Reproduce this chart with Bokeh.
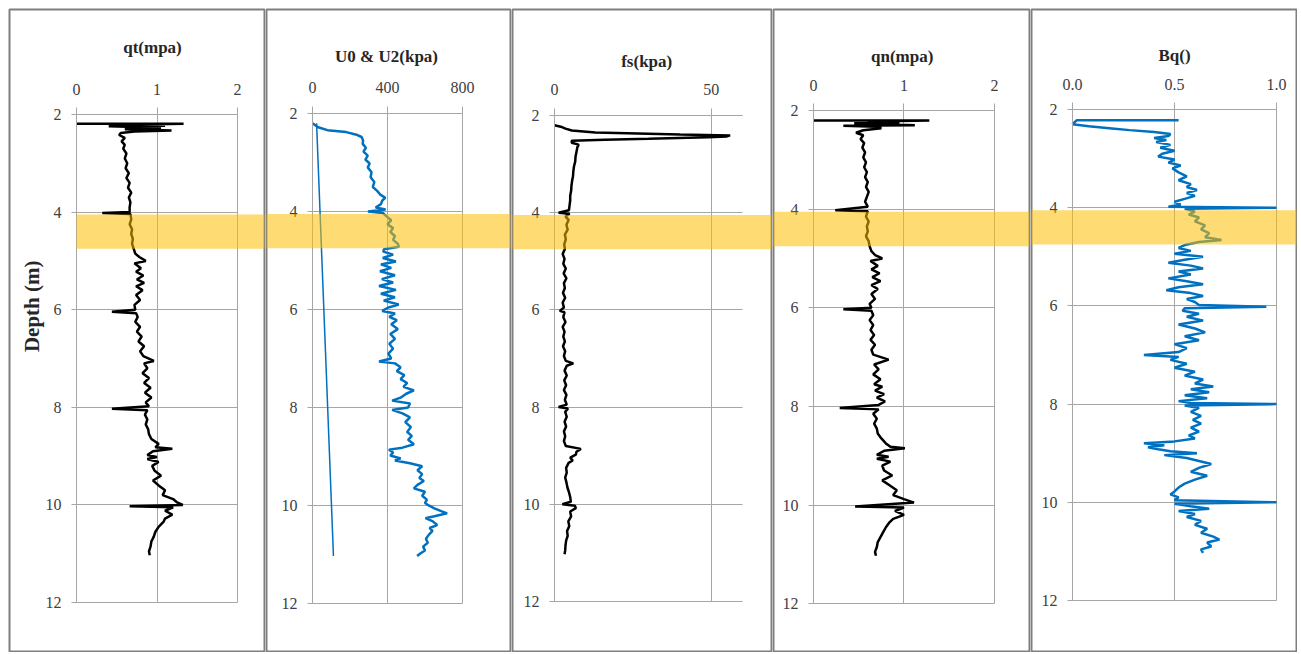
import math
from bokeh.plotting import figure
from bokeh.layouts import row
from bokeh.models import (Range1d, LinearAxis, FixedTicker, Grid, BoxAnnotation,
                          Label, PrintfTickFormatter, BasicTickFormatter)
from bokeh.embed import file_html
from bokeh.resources import INLINE

# ---------------- data ----------------
depth_ticks = [2, 4, 6, 8, 10, 12]
qt_ticks = [0, 1, 2]
u_ticks = [0, 400, 800]
fs_ticks = [0, 50]
qn_ticks = [0, 1, 2]
bq_ticks = [0.0, 0.5, 1.0]

band_top = 4.05
band_bottom = 4.75

qt_depth = [2.19, 2.19, 2.21, 2.23, 2.24, 2.26, 2.28, 2.30, 2.33, 2.35,
            2.38, 2.42, 2.48, 2.55, 2.62, 2.70, 2.80, 2.90, 3.00, 3.10,
            3.20, 3.30, 3.40, 3.50, 3.60, 3.70, 3.80, 3.90, 4.00, 4.02,
            4.04, 4.15, 4.25, 4.35, 4.45, 4.55, 4.65, 4.75, 4.85, 4.92,
            5.00, 5.05, 5.15, 5.22, 5.30, 5.38, 5.45, 5.52, 5.60, 5.70,
            5.80, 5.90, 6.00, 6.04, 6.07, 6.15, 6.25, 6.35, 6.45, 6.55,
            6.65, 6.75, 6.85, 6.95, 7.05, 7.10, 7.20, 7.30, 7.40, 7.50,
            7.60, 7.70, 7.80, 7.90, 7.98, 8.03, 8.06, 8.15, 8.25, 8.35,
            8.45, 8.55, 8.65, 8.75, 8.82, 8.85, 8.90, 8.98, 9.02, 9.06,
            9.12, 9.20, 9.30, 9.40, 9.50, 9.60, 9.70, 9.80, 9.88, 9.95,
            10.00, 10.03, 10.05, 10.12, 10.20, 10.28, 10.35, 10.45, 10.55, 10.65,
            10.75, 10.85, 10.95, 11.03]
qt_mpa = [0.00, 1.33, 0.62, 1.10, 0.40, 0.85, 1.05, 0.60, 1.18, 0.72,
          0.55, 0.53, 0.60, 0.56, 0.60, 0.58, 0.62, 0.60, 0.63, 0.61,
          0.65, 0.62, 0.66, 0.64, 0.68, 0.65, 0.67, 0.66, 0.66, 0.32,
          0.67, 0.68, 0.66, 0.69, 0.68, 0.70, 0.69, 0.71, 0.73, 0.78,
          0.86, 0.72, 0.80, 0.74, 0.83, 0.75, 0.84, 0.74, 0.82, 0.74,
          0.79, 0.72, 0.73, 0.44, 0.74, 0.76, 0.73, 0.79, 0.75, 0.81,
          0.77, 0.84, 0.79, 0.83, 0.96, 0.84, 0.88, 0.82, 0.90, 0.84,
          0.92, 0.85, 0.93, 0.86, 0.90, 0.44, 0.88, 0.85, 0.88, 0.86,
          0.89, 0.90, 0.93, 1.02, 0.98, 1.19, 0.95, 0.88, 1.00, 0.88,
          1.02, 0.94, 0.97, 1.05, 0.95, 1.02, 1.10, 1.07, 1.20, 1.25,
          1.32, 0.66, 1.20, 1.10, 1.19, 1.10, 1.08, 1.02, 0.98, 0.96,
          0.93, 0.92, 0.90, 0.91]

u0_depth = [2.20, 11.03]
u0_kpa = [22, 112]

u2_depth = [2.20, 2.28, 2.34, 2.38, 2.44, 2.48, 2.55, 2.62, 2.70, 2.78,
            2.86, 2.94, 3.02, 3.10, 3.20, 3.30, 3.40, 3.50, 3.58, 3.65,
            3.72, 3.78, 3.85, 3.92, 3.96, 4.00, 4.03, 4.10, 4.18, 4.26,
            4.34, 4.42, 4.50, 4.58, 4.66, 4.72, 4.77, 4.82, 4.88, 4.95,
            5.02, 5.08, 5.15, 5.22, 5.30, 5.38, 5.45, 5.52, 5.60, 5.68,
            5.75, 5.82, 5.90, 5.96, 6.03, 6.08, 6.15, 6.22, 6.30, 6.40,
            6.50, 6.60, 6.70, 6.80, 6.90, 7.00, 7.06, 7.10, 7.18, 7.26,
            7.34, 7.42, 7.50, 7.58, 7.65, 7.72, 7.80, 7.86, 7.92, 8.00,
            8.05, 8.12, 8.20, 8.30, 8.40, 8.50, 8.58, 8.66, 8.75, 8.82,
            8.86, 8.92, 8.98, 9.04, 9.08, 9.14, 9.20, 9.28, 9.36, 9.44,
            9.50, 9.58, 9.65, 9.72, 9.80, 9.88, 9.95, 10.00, 10.06, 10.12,
            10.16, 10.22, 10.26, 10.32, 10.40, 10.46, 10.52, 10.60, 10.68, 10.76,
            10.84, 10.92, 10.98, 11.03]
u2_kpa = [0, 30, 80, 180, 240, 262, 270, 268, 285, 272,
          295, 282, 305, 295, 315, 310, 330, 322, 345, 360,
          388, 372, 365, 337, 390, 296, 375, 395, 420, 400,
          430, 415, 440, 430, 455, 461, 381, 378, 430, 375,
          445, 365, 420, 360, 440, 370, 430, 355, 445, 365,
          440, 380, 460, 405, 372, 440, 410, 450, 420, 455,
          415, 440, 410, 430, 405, 420, 355, 440, 470, 450,
          490, 470, 505, 485, 541, 500, 470, 425, 520, 510,
          425, 480, 520, 495, 525, 505, 530, 510, 541, 480,
          408, 430, 415, 470, 440, 520, 585, 560, 585, 570,
          594, 560, 541, 600, 585, 610, 600, 620, 650, 690,
          718, 650, 603, 640, 665, 625, 640, 620, 605, 615,
          590, 600, 575, 558]

fs_depth = [2.20, 2.23, 2.27, 2.31, 2.35, 2.39, 2.41, 2.43, 2.45, 2.48,
            2.50, 2.52, 2.56, 2.60, 2.65, 2.75, 2.85, 2.95, 3.05, 3.15,
            3.25, 3.35, 3.45, 3.55, 3.65, 3.75, 3.85, 3.95, 4.00, 4.02,
            4.08, 4.15, 4.25, 4.35, 4.45, 4.55, 4.65, 4.75, 4.85, 4.95,
            5.05, 5.15, 5.25, 5.35, 5.45, 5.55, 5.65, 5.75, 5.85, 5.95,
            6.02, 6.05, 6.15, 6.25, 6.35, 6.45, 6.55, 6.65, 6.75, 6.85,
            6.95, 7.05, 7.10, 7.15, 7.25, 7.35, 7.45, 7.55, 7.65, 7.75,
            7.85, 7.95, 8.00, 8.03, 8.10, 8.20, 8.30, 8.40, 8.50, 8.60,
            8.70, 8.80, 8.86, 8.92, 8.98, 9.04, 9.10, 9.15, 9.25, 9.35,
            9.45, 9.55, 9.65, 9.75, 9.85, 9.95, 10.00, 10.03, 10.08, 10.15,
            10.25, 10.35, 10.45, 10.55, 10.65, 10.75, 10.85, 10.95, 11.03]
fs_kpa = [0.0, 2.0, 3.5, 5.5, 13.0, 40.0, 56.0, 55.0, 49.0, 30.0,
          16.0, 5.5, 5.5, 7.7, 7.3, 7.0, 6.7, 6.6, 6.2, 6.0,
          5.9, 5.6, 5.4, 5.3, 5.0, 5.0, 4.8, 4.6, 1.3, 4.8,
          3.5, 4.5, 3.8, 4.2, 3.3, 3.6, 3.1, 3.3, 2.6, 3.2,
          2.8, 3.6, 2.9, 3.8, 3.0, 3.3, 2.7, 3.4, 2.6, 3.0,
          1.7, 3.2, 2.8, 3.5, 2.6, 3.2, 2.8, 3.3, 2.7, 3.4,
          3.0, 3.6, 6.0, 3.9, 3.2, 3.9, 3.1, 3.7, 3.0, 3.8,
          3.3, 3.9, 1.3, 4.3, 3.4, 3.9, 3.2, 3.7, 3.0, 3.4,
          3.0, 3.6, 8.4, 7.0, 6.8, 5.0, 5.8, 4.5, 3.7, 3.9,
          3.4, 3.8, 4.1, 4.6, 5.0, 5.2, 2.5, 6.5, 6.8, 5.0,
          5.3, 4.4, 4.7, 4.0, 4.2, 3.7, 3.5, 3.4, 3.2]

qn_depth = [2.20, 2.20, 2.22, 2.24, 2.26, 2.28, 2.30, 2.31, 2.33, 2.36,
            2.40, 2.45, 2.50, 2.58, 2.66, 2.75, 2.85, 2.95, 3.05, 3.15,
            3.25, 3.35, 3.45, 3.55, 3.65, 3.75, 3.85, 3.95, 4.02, 4.04,
            4.15, 4.25, 4.35, 4.45, 4.55, 4.65, 4.75, 4.85, 4.93, 5.00,
            5.05, 5.15, 5.22, 5.30, 5.38, 5.46, 5.54, 5.62, 5.72, 5.82,
            5.92, 6.00, 6.03, 6.06, 6.15, 6.25, 6.35, 6.45, 6.55, 6.65,
            6.75, 6.85, 6.95, 7.05, 7.15, 7.25, 7.35, 7.45, 7.55, 7.60,
            7.68, 7.75, 7.82, 7.90, 7.97, 8.03, 8.06, 8.15, 8.25, 8.35,
            8.45, 8.55, 8.65, 8.75, 8.82, 8.85, 8.90, 8.98, 9.02, 9.06,
            9.12, 9.20, 9.30, 9.40, 9.50, 9.60, 9.70, 9.80, 9.88, 9.95,
            10.03, 10.05, 10.12, 10.20, 10.28, 10.35, 10.45, 10.55, 10.65, 10.75,
            10.85, 10.95, 11.03]
qn_mpa = [0.00, 1.28, 0.60, 0.95, 0.45, 0.80, 1.12, 0.33, 0.70, 0.75,
          0.55, 0.47, 0.55, 0.52, 0.56, 0.54, 0.57, 0.55, 0.58, 0.56,
          0.59, 0.57, 0.60, 0.58, 0.61, 0.59, 0.57, 0.60, 0.24, 0.60,
          0.58, 0.61, 0.59, 0.60, 0.58, 0.61, 0.62, 0.64, 0.68, 0.76,
          0.63, 0.71, 0.64, 0.73, 0.65, 0.74, 0.64, 0.71, 0.64, 0.68,
          0.62, 0.64, 0.33, 0.64, 0.66, 0.62, 0.66, 0.63, 0.67, 0.63,
          0.68, 0.64, 0.66, 0.83, 0.67, 0.72, 0.66, 0.74, 0.67, 0.76,
          0.68, 0.78, 0.70, 0.79, 0.72, 0.29, 0.72, 0.66, 0.70, 0.67,
          0.70, 0.71, 0.75, 0.80, 0.85, 1.01, 0.78, 0.70, 0.83, 0.70,
          0.85, 0.76, 0.78, 0.87, 0.76, 0.84, 0.92, 0.88, 1.00, 1.11,
          0.46, 1.00, 0.90, 1.00, 0.88, 0.84, 0.80, 0.77, 0.74, 0.71,
          0.70, 0.68, 0.69]

bq_depth = [2.22, 2.22, 2.30, 2.34, 2.38, 2.42, 2.46, 2.50, 2.54, 2.58,
            2.62, 2.66, 2.72, 2.78, 2.84, 2.90, 2.96, 3.02, 3.08, 3.14,
            3.20, 3.28, 3.36, 3.44, 3.52, 3.58, 3.64, 3.70, 3.76, 3.82,
            3.88, 3.94, 3.98, 4.00, 4.02, 4.08, 4.14, 4.20, 4.28, 4.36,
            4.44, 4.52, 4.60, 4.66, 4.70, 4.76, 4.82, 4.88, 4.94, 5.00,
            5.06, 5.12, 5.18, 5.24, 5.30, 5.36, 5.44, 5.50, 5.56, 5.62,
            5.68, 5.74, 5.80, 5.86, 5.92, 5.98, 6.02, 6.05, 6.10, 6.16,
            6.22, 6.30, 6.38, 6.46, 6.54, 6.62, 6.70, 6.78, 6.86, 6.94,
            7.00, 7.04, 7.10, 7.18, 7.26, 7.34, 7.42, 7.50, 7.58, 7.64,
            7.70, 7.76, 7.82, 7.88, 7.94, 7.98, 8.00, 8.03, 8.08, 8.16,
            8.24, 8.32, 8.40, 8.48, 8.56, 8.64, 8.70, 8.76, 8.80, 8.84,
            8.88, 8.92, 8.96, 9.00, 9.04, 9.10, 9.16, 9.22, 9.30, 9.38,
            9.46, 9.54, 9.62, 9.70, 9.78, 9.84, 9.90, 9.96, 10.00, 10.03,
            10.08, 10.13, 10.18, 10.24, 10.30, 10.38, 10.46, 10.54, 10.62, 10.70,
            10.76, 10.82, 10.90, 10.96, 11.03]
bq_value = [0.52, 0.02, 0.00, 0.08, 0.18, 0.28, 0.40, 0.48, 0.47, 0.40,
            0.46, 0.41, 0.48, 0.43, 0.50, 0.44, 0.42, 0.50, 0.47, 0.53,
            0.49, 0.52, 0.56, 0.52, 0.58, 0.56, 0.61, 0.56, 0.60, 0.55,
            0.50, 0.53, 0.47, 1.00, 0.55, 0.60, 0.57, 0.62, 0.60, 0.65,
            0.63, 0.67, 0.65, 0.73, 0.62, 0.55, 0.52, 0.58, 0.50, 0.64,
            0.55, 0.47, 0.58, 0.64, 0.52, 0.58, 0.47, 0.56, 0.64, 0.52,
            0.46, 0.58, 0.64, 0.56, 0.60, 0.62, 0.95, 0.55, 0.54, 0.62,
            0.56, 0.64, 0.52, 0.60, 0.65, 0.55, 0.62, 0.50, 0.56, 0.52,
            0.35, 0.52, 0.48, 0.56, 0.50, 0.60, 0.55, 0.64, 0.60, 0.69,
            0.58, 0.67, 0.55, 0.66, 0.52, 0.58, 1.00, 0.55, 0.62, 0.58,
            0.63, 0.59, 0.63, 0.58, 0.62, 0.57, 0.60, 0.50, 0.35, 0.45,
            0.37, 0.42, 0.48, 0.61, 0.45, 0.56, 0.62, 0.68, 0.62, 0.58,
            0.66, 0.60, 0.55, 0.52, 0.50, 0.48, 0.52, 0.50, 1.00, 0.50,
            0.58, 0.67, 0.52, 0.60, 0.56, 0.63, 0.60, 0.66, 0.63, 0.69,
            0.72, 0.66, 0.68, 0.63, 0.64]

# ---------------- style ----------------
FONT = "Liberation Serif"
GRID_C = "#A6A6A6"
BORDER_C = "#7F7F7F"
TICK_C = "#404040"
TITLE_C = "#262626"
BLUE = "#0070C0"
BLACK = "#000000"
BAND_C = "#FFC000"
H = 644


def make_panel(width, xr, yr, xticks, xlim, title, tx, ty, fmt=None, band_left=None):
    p = figure(width=width, height=H, x_range=Range1d(*xr), y_range=Range1d(*yr),
               x_axis_type=None, y_axis_type=None, toolbar_location=None,
               output_backend="svg",
               min_border_left=1, min_border_right=1, min_border_top=1, min_border_bottom=1,
               background_fill_color="white", border_fill_color="white",
               outline_line_color=BORDER_C, outline_line_width=2)

    eps_x = (xlim[1] - xlim[0]) * 1e-4
    try:
        vg = Grid(dimension=0, ticker=FixedTicker(ticks=xticks),
                  bounds=(xlim[0] - eps_x, xlim[1] + eps_x), cross_bounds=(2, 12),
                  grid_line_color=GRID_C, grid_line_width=1)
        hg = Grid(dimension=1, ticker=FixedTicker(ticks=depth_ticks),
                  bounds=(2 - 1e-4, 12 + 1e-4), cross_bounds=(xlim[0], xlim[1]),
                  grid_line_color=GRID_C, grid_line_width=1)
        p.add_layout(vg, "center")
        p.add_layout(hg, "center")
    except Exception:
        n = len(xticks)
        p.segment(x0=xticks, y0=[2] * n, x1=xticks, y1=[12] * n,
                  line_color=GRID_C, line_width=1)
        m = len(depth_ticks)
        p.segment(x0=[xlim[0]] * m, y0=depth_ticks, x1=[xlim[1]] * m, y1=depth_ticks,
                  line_color=GRID_C, line_width=1)

    xa = LinearAxis(fixed_location=2, bounds=xlim, ticker=FixedTicker(ticks=xticks),
                    formatter=fmt if fmt is not None else BasicTickFormatter())
    ya = LinearAxis(fixed_location=xlim[0], bounds=(2, 12),
                    ticker=FixedTicker(ticks=depth_ticks))
    for ax, tout, stand in ((xa, 7, 13), (ya, 5, 10)):
        ax.axis_line_color = GRID_C
        ax.major_tick_line_color = GRID_C
        ax.minor_tick_line_color = None
        ax.major_tick_in = 0
        ax.major_tick_out = tout
        ax.major_label_standoff = stand
        ax.major_label_text_font = FONT
        ax.major_label_text_font_size = "16px"
        ax.major_label_text_color = TICK_C
    p.add_layout(xa, "above")
    p.add_layout(ya, "left")

    p.add_layout(Label(x=tx, y=ty, text=title, text_align="center", text_baseline="middle",
                       text_font=FONT, text_font_size="17px", text_font_style="bold",
                       text_color=TITLE_C))

    if band_left is None:
        band = BoxAnnotation(top=band_top, bottom=band_bottom, fill_color=BAND_C,
                             fill_alpha=0.55, line_color=None, level="overlay")
    else:
        band = BoxAnnotation(left=band_left, top=band_top, bottom=band_bottom,
                             fill_color=BAND_C, fill_alpha=0.55, line_color=None,
                             level="overlay")
    p.add_layout(band)
    return p


# panel 1: qt
p1 = make_panel(257, (-0.832, 2.335), (13.004, -0.152), qt_ticks, (0, 2),
                "qt(mpa)", 0.944, 0.627, band_left=0)
p1.line(qt_mpa, qt_depth, line_color=BLACK, line_width=2.5)
p1.add_layout(Label(x=-0.547, y=5.93, text="Depth (m)", angle=math.pi / 2,
                    text_align="center", text_baseline="middle", text_font=FONT,
                    text_font_size="21px", text_font_style="bold", text_color=TITLE_C))

# panel 2: U0 & U2
p2 = make_panel(246, (-245, 1056), (12.98, -0.122), u_ticks, (0, 800),
                "U0 & U2(kpa)", 395, 0.837)
p2.line(u0_kpa, u0_depth, line_color=BLUE, line_width=1.5)
p2.line(u2_kpa, u2_depth, line_color=BLUE, line_width=2.5)

# panel 3: fs
p3 = make_panel(261, (-13.4, 69.2), (13.03, -0.181), fs_ticks, (0, 60),
                "fs(kpa)", 29.4, 0.889)
p3.line(fs_kpa, fs_depth, line_color=BLACK, line_width=2.5)

# panel 4: qn
p4 = make_panel(258, (-0.442, 2.387), (12.97, -0.049), qn_ticks, (0, 2),
                "qn(mpa)", 0.98, 0.905)
p4.line(qn_mpa, qn_depth, line_color=BLACK, line_width=2.5)

# panel 5: Bq
p5 = make_panel(267, (-0.201, 1.098), (13.04, -0.037), bq_ticks, (0, 1),
                "Bq()", 0.5, 0.90, fmt=PrintfTickFormatter(format="%.1f"))
p5.line(bq_value, bq_depth, line_color=BLUE, line_width=2.5)

layout = row(p1, p2, p3, p4, p5, spacing=0, margin=(8, 0, 0, 8))

open("out.html", "w").write(file_html(layout, INLINE))
